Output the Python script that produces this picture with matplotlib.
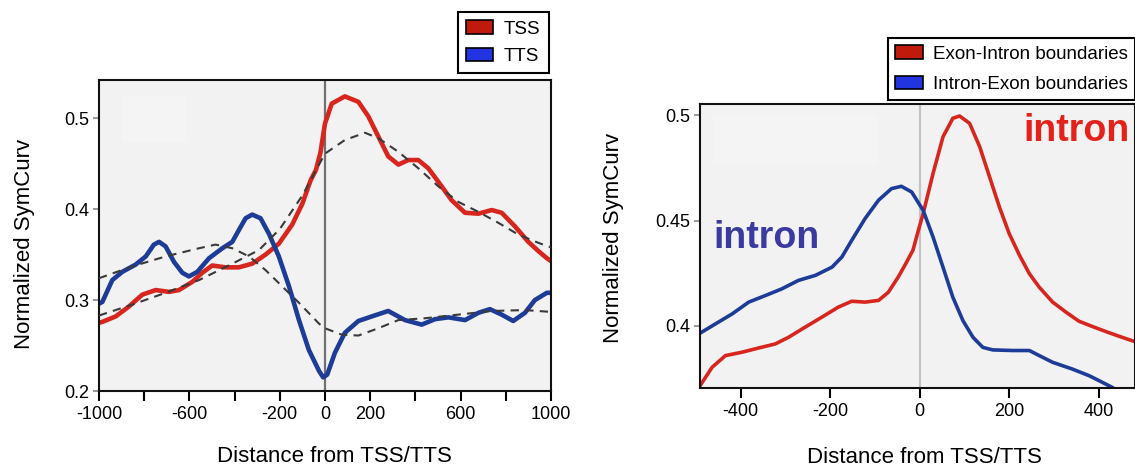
import numpy as np
import matplotlib
matplotlib.use("Agg")
from matplotlib import pyplot as plt
from matplotlib.patches import Patch, Rectangle

plt.rcParams['font.family'] = ['Liberation Sans', 'DejaVu Sans']
plt.rcParams['axes.unicode_minus'] = False

# ---- left panel: TSS / TTS profiles ----
tss_x = [-1000, -985, -926, -867, -808, -749, -690, -646, -587, -543, -499, -440,
         -381, -322, -263, -204, -145, -100, -63, -40, -20, 0, 30, 88, 148, 192, 236,
         280, 325, 369, 413, 457, 502, 560, 620, 679, 738, 782, 841, 900, 944, 982, 1000]
tss_y = [0.275, 0.276, 0.282, 0.293, 0.306, 0.311, 0.309, 0.311, 0.320, 0.330, 0.338,
         0.336, 0.336, 0.340, 0.350, 0.362, 0.383, 0.406, 0.432, 0.443, 0.462, 0.494,
         0.516, 0.524, 0.518, 0.502, 0.480, 0.458, 0.449, 0.454, 0.454, 0.445, 0.430,
         0.410, 0.396, 0.395, 0.399, 0.396, 0.381, 0.364, 0.354, 0.346, 0.343]

tts_x = [-1000, -985, -941, -897, -838, -793, -757, -734, -705, -668, -631, -602,
         -565, -513, -454, -410, -381, -351, -322, -285, -248, -204, -159, -115, -71,
         -26, -8, 10, 44, 88, 148, 207, 280, 354, 428, 487, 546, 620, 679, 730, 782,
         833, 885, 929, 982, 1000]
tts_y = [0.296, 0.298, 0.322, 0.331, 0.339, 0.348, 0.361, 0.364, 0.359, 0.342, 0.330,
         0.326, 0.331, 0.346, 0.357, 0.364, 0.377, 0.390, 0.394, 0.390, 0.373, 0.348,
         0.315, 0.278, 0.245, 0.222, 0.215, 0.218, 0.242, 0.264, 0.277, 0.282, 0.288,
         0.278, 0.273, 0.279, 0.281, 0.278, 0.286, 0.290, 0.284, 0.277, 0.286, 0.300,
         0.308, 0.308]

# smooth fits (dashed)
tss_fit_x = [-1000, -853, -705, -557, -410, -292, -200, -100, 0, 88, 177, 236, 325,
             413, 502, 590, 679, 767, 856, 944, 1000]
tss_fit_y = [0.283, 0.295, 0.308, 0.322, 0.340, 0.355, 0.378, 0.415, 0.461, 0.476,
             0.484, 0.478, 0.463, 0.445, 0.425, 0.408, 0.397, 0.385, 0.372, 0.363, 0.358]
tts_fit_x = [-1000, -853, -705, -557, -484, -410, -336, -263, -189, -115, -26, 0, 74,
             148, 236, 325, 443, 590, 738, 885, 1000]
tts_fit_y = [0.324, 0.337, 0.348, 0.357, 0.361, 0.357, 0.348, 0.333, 0.315, 0.297,
             0.274, 0.269, 0.262, 0.261, 0.269, 0.278, 0.280, 0.284, 0.288, 0.289, 0.287]

left_xticks = [-1000, -800, -600, -400, -200, 0, 200, 400, 600, 800, 1000]
left_xlabels = ['-1000', '', '-600', '', '-200', '0', '200', '', '600', '', '1000']
left_yticks = [0.2, 0.3, 0.4, 0.5]

# ---- right panel: exon/intron boundaries ----
ei_x = [-491, -464, -434, -397, -360, -323, -293, -256, -219, -182, -152, -122, -92,
        -70, -48, -30, -15, -3.5, 7.6, 29.8, 52, 74, 89, 111.5, 134, 156, 178, 200,
        223, 245, 267, 297, 327, 356, 386, 416, 445, 481]
ei_y = [0.3715, 0.3803, 0.3859, 0.3875, 0.3895, 0.3914, 0.3946, 0.3994, 0.4041, 0.4089,
        0.4117, 0.4113, 0.4121, 0.4160, 0.4232, 0.4300, 0.4360, 0.4450, 0.4533, 0.4724,
        0.4898, 0.4986, 0.4997, 0.4962, 0.4851, 0.4708, 0.4565, 0.4438, 0.4335, 0.4248,
        0.4184, 0.4113, 0.4065, 0.4022, 0.3997, 0.3973, 0.3951, 0.3925]

ie_x = [-491, -456, -419, -382, -345, -308, -271, -233, -196, -174, -152, -122, -92,
        -63, -41, -18, 7.6, 29.8, 52, 74, 96.6, 119, 141, 163, 208, 245, 267, 297,
        341, 379, 408, 430, 446]
ie_y = [0.3965, 0.4010, 0.4057, 0.4113, 0.4144, 0.4176, 0.4216, 0.4240, 0.4279, 0.4327,
        0.4406, 0.4510, 0.4597, 0.4652, 0.4663, 0.4636, 0.4549, 0.4422, 0.4279, 0.4136,
        0.4025, 0.3946, 0.3898, 0.3886, 0.3883, 0.3883, 0.3859, 0.3827, 0.3795, 0.3763,
        0.3732, 0.3708, 0.3686]

right_xticks = [-400, -200, 0, 200, 400]
right_yticks = [0.4, 0.45, 0.5]
right_ylabels = ['0.4', '0.45', '0.5']

RED = '#d6261e'
BLUE = '#1c3c98'
LEG_RED = '#c01a0c'
LEG_BLUE = '#2233e0'
BG = '#f2f2f2'

fig = plt.figure(figsize=(11.35, 4.69), dpi=100)

# left axes
ax1 = fig.add_axes([0.0872, 0.1663, 0.3982, 0.6631])
ax1.set_facecolor(BG)
ax1.add_patch(Rectangle((0.05, 0.80), 0.145, 0.15, transform=ax1.transAxes,
                        color='#f4f4f4', lw=0, zorder=0.5))
ax1.axvline(0, color='#707070', lw=1.6, zorder=1)
ax1.plot(tss_x, tss_y, color=RED, lw=3.3, solid_capstyle='round', solid_joinstyle='round', zorder=2)
ax1.plot(tts_x, tts_y, color=BLUE, lw=3.3, solid_capstyle='round', solid_joinstyle='round', zorder=2)
ax1.plot(tss_fit_x, tss_fit_y, color='#3a3a3a', lw=1.5, ls=(0, (4, 3)), zorder=3)
ax1.plot(tts_fit_x, tts_fit_y, color='#3a3a3a', lw=1.5, ls=(0, (4, 3)), zorder=3)
ax1.set_xlim(-1000, 1000)
ax1.set_ylim(0.2, 0.542)
ax1.set_xticks(left_xticks)
ax1.set_xticklabels(left_xlabels)
ax1.set_yticks(left_yticks)
ax1.set_yticklabels([f'{v:.1f}' for v in left_yticks])
ax1.tick_params(axis='x', direction='out', length=7, width=1.5, labelsize=13, pad=4)
ax1.tick_params(axis='y', direction='out', length=4, width=1.2, color='#888888', labelsize=13, pad=3)
for s in ax1.spines.values():
    s.set_linewidth(1.5)
    s.set_color('#111111')
ax1.set_xlabel('Distance from TSS/TTS', fontsize=16)
ax1.xaxis.set_label_coords(0.52, -0.212)
ax1.xaxis.label.set_va('center')
ax1.set_ylabel('Normalized SymCurv', fontsize=16)
ax1.yaxis.set_label_coords(-0.165, 0.473)
ax1.yaxis.label.set_va('center')

leg1 = fig.legend(handles=[Patch(facecolor=LEG_RED, edgecolor='black', lw=1.2, label='TSS'),
                           Patch(facecolor=LEG_BLUE, edgecolor='black', lw=1.2, label='TTS')],
                  loc='upper right', bbox_to_anchor=(549 / 1135, 1 - 12 / 469),
                  fontsize=13.5, handlelength=1.4, handleheight=0.7, handletextpad=0.6,
                  labelspacing=0.55, borderpad=0.45, borderaxespad=0, fancybox=False,
                  framealpha=1, edgecolor='black')
leg1.get_frame().set_linewidth(1.5)

# right axes
ax2 = fig.add_axes([0.6167, 0.1727, 0.3833, 0.6056])
ax2.set_facecolor(BG)
ax2.add_patch(Rectangle((0.03, 0.79), 0.38, 0.17, transform=ax2.transAxes,
                        color='#f4f4f4', lw=0, zorder=0.5))
ax2.axvline(0, color='#c4c4c4', lw=1.6, zorder=1)
ax2.plot(ei_x, ei_y, color=RED, lw=2.6, solid_capstyle='round', solid_joinstyle='round', zorder=2)
ax2.plot(ie_x, ie_y, color=BLUE, lw=2.6, solid_capstyle='round', solid_joinstyle='round', zorder=2)
ax2.set_xlim(-491, 481)
ax2.set_ylim(0.3705, 0.5054)
ax2.set_xticks(right_xticks)
ax2.set_yticks(right_yticks)
ax2.set_yticklabels(right_ylabels)
ax2.tick_params(axis='x', direction='out', length=7, width=1.5, labelsize=13, pad=4)
ax2.tick_params(axis='y', direction='out', length=4, width=1.2, color='#888888', labelsize=13, pad=3)
for s in ax2.spines.values():
    s.set_linewidth(1.5)
    s.set_color('#111111')
ax2.set_xlabel('Distance from TSS/TTS', fontsize=16)
ax2.xaxis.set_label_coords(0.516, -0.243)
ax2.xaxis.label.set_va('center')
ax2.set_ylabel('Normalized SymCurv', fontsize=16)
ax2.yaxis.set_label_coords(-0.198, 0.53)
ax2.yaxis.label.set_va('center')

ax2.text(-460, 0.437, 'intron', color='#3a3aa0', fontsize=27, fontweight='bold',
         ha='left', va='baseline', zorder=4)
ax2.text(232, 0.4878, 'intron', color='#e4221a', fontsize=27, fontweight='bold',
         ha='left', va='baseline', zorder=4, clip_on=False)

leg2 = fig.legend(handles=[Patch(facecolor=LEG_RED, edgecolor='black', lw=1.2, label='Exon-Intron boundaries'),
                           Patch(facecolor=LEG_BLUE, edgecolor='black', lw=1.2, label='Intron-Exon boundaries')],
                  loc='upper right', bbox_to_anchor=(1.0, 1 - 38 / 469),
                  fontsize=13.5, handlelength=1.5, handleheight=0.7, handletextpad=0.5,
                  labelspacing=0.7, borderpad=0.4, borderaxespad=0, fancybox=False,
                  framealpha=1, edgecolor='black')
leg2.get_frame().set_linewidth(1.5)

fig.savefig('out.png', dpi=100, facecolor='white')
